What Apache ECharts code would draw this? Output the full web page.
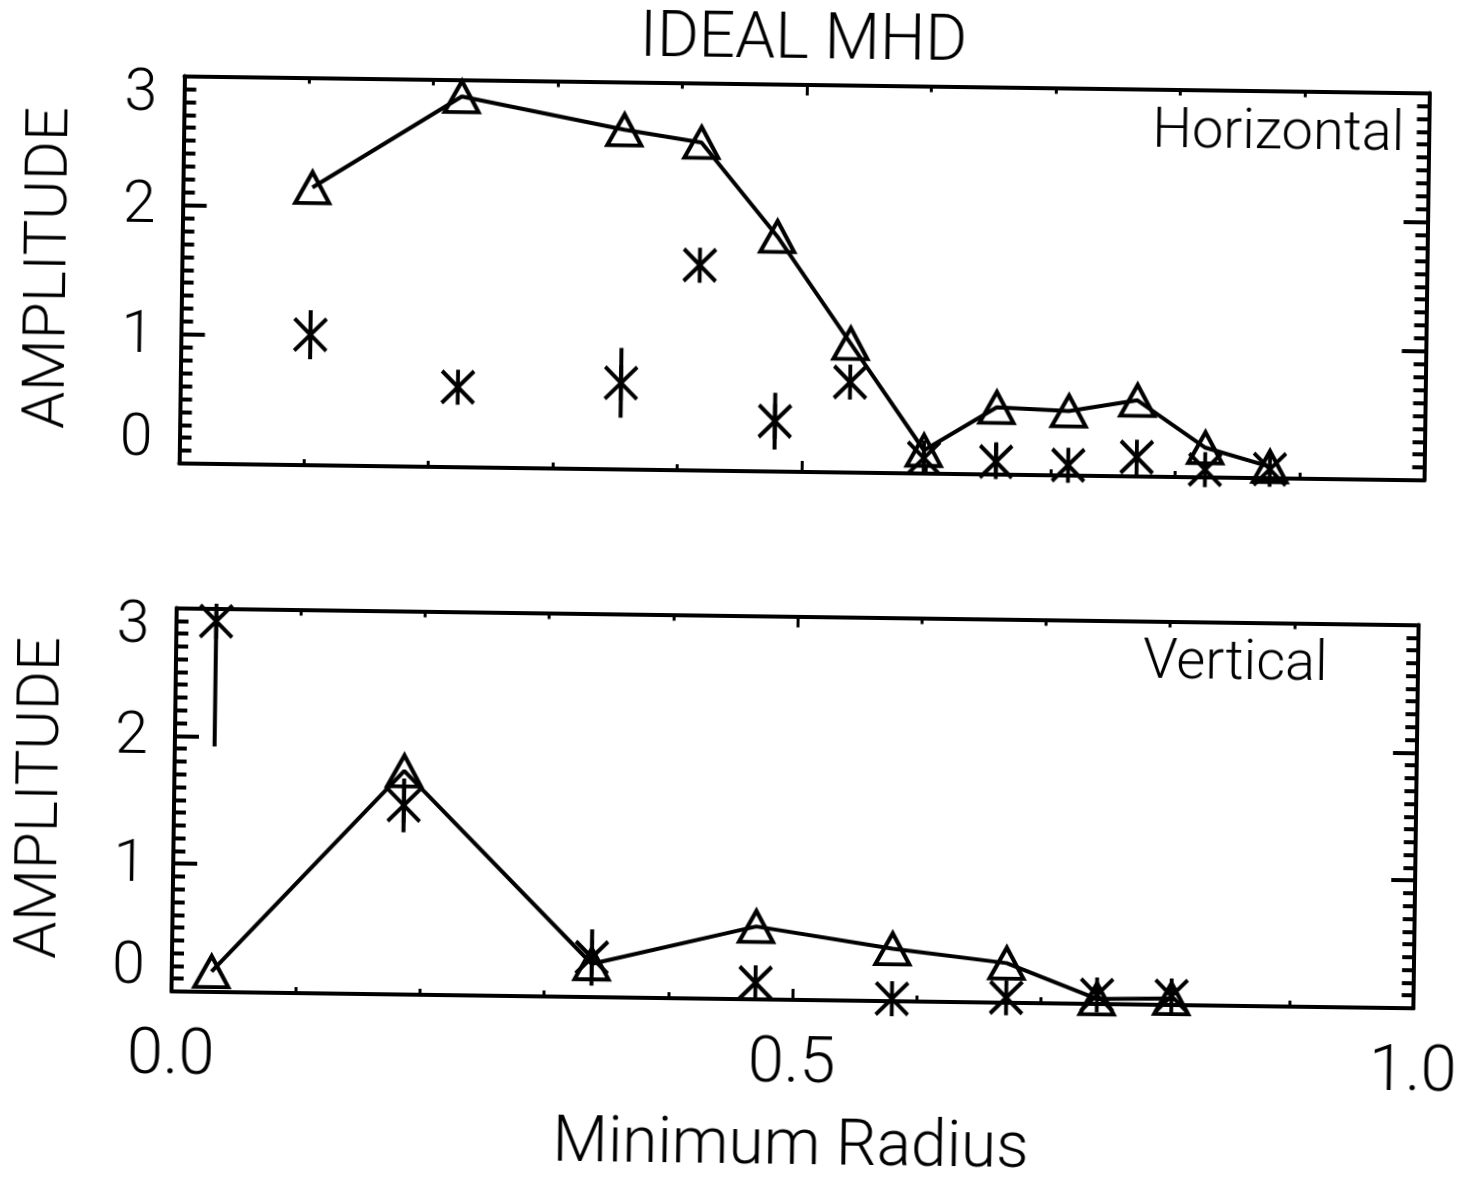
<!DOCTYPE html>
<html>
<head>
<meta charset="utf-8">
<title>IDEAL MHD</title>
<script src="https://cdn.jsdelivr.net/npm/echarts@6/dist/echarts.min.js"></script>
<style>
  html, body { margin: 0; padding: 0; background: #fff; overflow: hidden; }
  #chart { width: 1466px; height: 1180px; transform: rotate(0.78deg); transform-origin: 733px 590px; }
</style>
</head>
<body>
<div id="chart"></div>
<script>
// Horizontal component: minimum radius, ideal-MHD amplitude, observed amplitude and its error
const hRadius   = [0.104, 0.223, 0.354, 0.416, 0.478, 0.538, 0.598, 0.656, 0.714, 0.769, 0.824, 0.876];
const hIdeal    = [2.15, 2.87, 2.63, 2.54, 1.82, 1.00, 0.18, 0.52, 0.50, 0.59, 0.23, 0.09];
const hObserved = [1.01, 0.62, 0.67, 1.59, 0.39, 0.70, 0.12, 0.10, 0.08, 0.15, 0.06, 0.07];
const hError    = [0.19, 0, 0.27, 0, 0.22, 0, 0, 0.15, 0, 0, 0, 0];

// Vertical component
const vRadius   = [0.032, 0.185, 0.338, 0.470, 0.580, 0.672, 0.745, 0.805];
const vIdeal    = [0.16, 1.75, 0.26, 0.57, 0.41, 0.31, 0.04, 0.05];
const vObserved = [2.90, 1.48, 0.31, 0.13, 0.02, 0.04, 0.07, 0.07];
const vError    = [0.98, 0.21, 0.22, 0, 0, 0, 0, 0];

// Axis tick values
const xTicks = [0.0, 0.5, 1.0];
const yTicks = [0, 1, 2, 3];

const FONT = 'Roboto';
const INK = '#000';
const STROKE = 4;

// asterisk: vertical stroke plus an X
const ASTERISK = 'path://M16,0 L16,35 M0,1.5 L32,33.5 M0,33.5 L32,1.5';

function xAxisFor(grid, withLabels, position) {
  return {
    type: 'value', gridIndex: grid, position: position,
    min: xTicks[0], max: xTicks[xTicks.length - 1], interval: xTicks[1] - xTicks[0],
    axisLine: { show: true, onZero: false, lineStyle: { color: INK, width: STROKE } },
    axisTick: { show: true, inside: true, length: 11, lineStyle: { color: INK, width: 3 } },
    minorTick: { show: true, splitNumber: 5, length: 6, lineStyle: { color: INK, width: 3 } },
    splitLine: { show: false }, minorSplitLine: { show: false },
    axisLabel: {
      show: withLabels, margin: 33, color: INK, fontFamily: FONT, fontWeight: 300, fontSize: 65,
      formatter: v => v.toFixed(1)
    },
    name: withLabels ? 'Minimum Radius' : '',
    nameLocation: 'middle', nameGap: 116,
    nameTextStyle: { color: INK, fontFamily: FONT, fontWeight: 300, fontSize: 64 }
  };
}

function yAxisFor(grid, withLabels, position) {
  return {
    type: 'value', gridIndex: grid, position: position,
    min: yTicks[0], max: yTicks[yTicks.length - 1], interval: yTicks[1] - yTicks[0],
    axisLine: { show: true, onZero: false, lineStyle: { color: INK, width: STROKE } },
    axisTick: { show: true, inside: true, length: 24, lineStyle: { color: INK, width: 4 } },
    minorTick: { show: true, splitNumber: 10, length: 12, lineStyle: { color: INK, width: 4 } },
    splitLine: { show: false }, minorSplitLine: { show: false },
    axisLabel: {
      show: withLabels, margin: 27, color: INK, fontFamily: FONT, fontWeight: 300, fontSize: 59,
      // end labels sit inside the frame
      formatter: v => v === yTicks[yTicks.length - 1] ? '{hi|' + v + '}'
                    : v === yTicks[0] ? '{lo|' + v + '}' : '{mid|' + v + '}',
      rich: {
        hi: { padding: [40, 0, 0, 0] },
        lo: { padding: [0, 0, 46, 0] },
        mid: { padding: [6, 0, 0, 0] }
      }
    },
    name: withLabels ? 'AMPLITUDE' : '',
    nameLocation: 'middle', nameGap: 102,
    nameTextStyle: { color: INK, fontFamily: FONT, fontWeight: 300, fontSize: 60 }
  };
}

function idealSeries(axisIdx, radius, values) {
  return {
    type: 'line', xAxisIndex: axisIdx, yAxisIndex: axisIdx,
    data: radius.map((r, i) => [r, values[i]]),
    symbol: 'triangle', symbolSize: [34, 31], showAllSymbol: true,
    itemStyle: { color: 'none', borderColor: INK, borderWidth: STROKE, opacity: 1 },
    lineStyle: { color: INK, width: STROKE },
    emphasis: { disabled: true }, silent: true, z: 3
  };
}

function observedSeries(axisIdx, radius, values) {
  return {
    type: 'scatter', xAxisIndex: axisIdx, yAxisIndex: axisIdx,
    data: radius.map((r, i) => [r, values[i]]),
    symbol: ASTERISK, symbolSize: [32, 35],
    itemStyle: { color: 'none', borderColor: INK, borderWidth: STROKE, opacity: 1 },
    emphasis: { disabled: true }, silent: true, z: 4
  };
}

function errorSeries(axisIdx, radius, values, errors) {
  return {
    type: 'custom', xAxisIndex: axisIdx, yAxisIndex: axisIdx, clip: true, silent: true, z: 4,
    data: radius.map((r, i) => [r, values[i], errors[i]]),
    renderItem: (params, api) => {
      const x = api.value(0), y = api.value(1), e = api.value(2);
      if (!e) return null;
      const lo = api.coord([x, y - e]);
      const hi = api.coord([x, y + e]);
      return {
        type: 'line',
        shape: { x1: lo[0], y1: lo[1], x2: hi[0], y2: hi[1] },
        style: { stroke: INK, lineWidth: STROKE }
      };
    }
  };
}

const chart = echarts.init(document.getElementById('chart'), null, { renderer: 'canvas' });

chart.setOption({
  animation: false,
  backgroundColor: '#fff',
  grid: [
    { left: 177.5, top: 83.5, width: 1245, height: 387.5 },
    { left: 177, top: 615.5, width: 1245, height: 388 }
  ],
  xAxis: [
    xAxisFor(0, false, 'bottom'),
    xAxisFor(1, true, 'bottom'),
    xAxisFor(0, false, 'top'),
    xAxisFor(1, false, 'top')
  ],
  yAxis: [
    yAxisFor(0, true, 'left'),
    yAxisFor(1, true, 'left'),
    yAxisFor(0, false, 'right'),
    yAxisFor(1, false, 'right')
  ],
  graphic: [
    { type: 'text', x: 796, y: 41, silent: true,
      style: { text: 'IDEAL MHD', fill: INK, font: '300 64px Roboto', textAlign: 'center', textVerticalAlign: 'middle' } },
    { type: 'text', x: 1146, y: 127, silent: true,
      style: { text: 'Horizontal', fill: INK, font: '300 56px Roboto', textAlign: 'left', textVerticalAlign: 'middle' } },
    { type: 'text', x: 1144, y: 658, silent: true,
      style: { text: 'Vertical', fill: INK, font: '300 56px Roboto', textAlign: 'left', textVerticalAlign: 'middle' } }
  ],
  series: [
    idealSeries(0, hRadius, hIdeal),
    errorSeries(0, hRadius, hObserved, hError),
    observedSeries(0, hRadius, hObserved),
    idealSeries(1, vRadius, vIdeal),
    errorSeries(1, vRadius, vObserved, vError),
    observedSeries(1, vRadius, vObserved)
  ]
});
</script>
</body>
</html>
